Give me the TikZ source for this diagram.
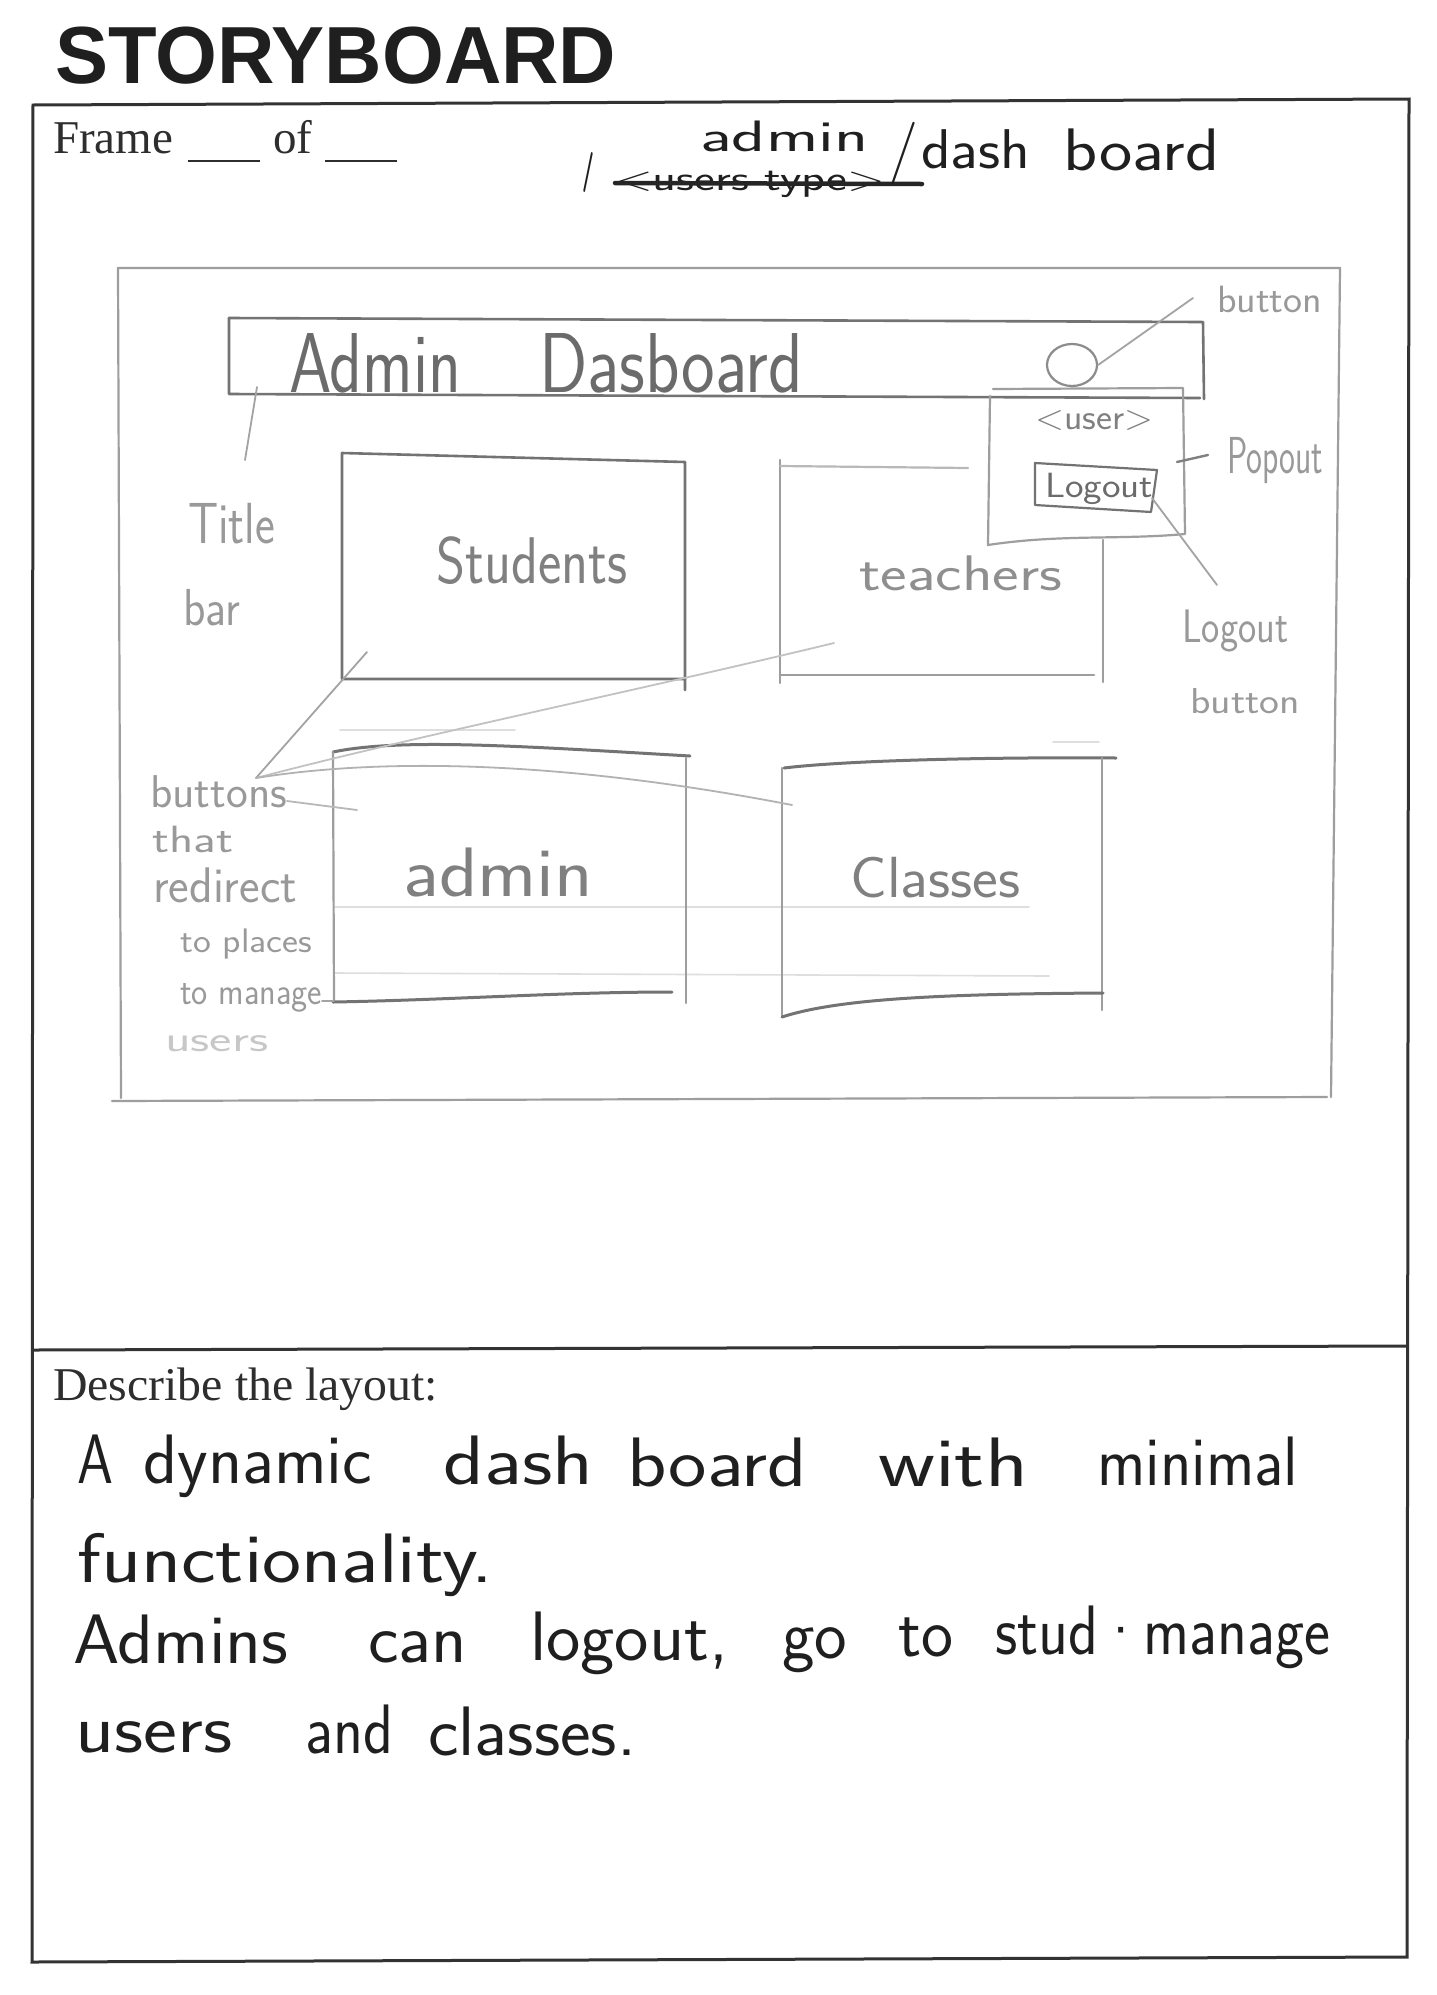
\documentclass[tikz,border=0pt]{standalone}
\usepackage{fontspec}
\usepackage{graphicx}
\setmainfont{Liberation Serif}
\newfontfamily\headfont{Liberation Sans}
\usetikzlibrary{shapes.geometric}

% font size in points (1 unit of the picture = 1pt)
\newcommand{\fsz}[1]{\fontsize{#1}{#1}\selectfont}
% squeeze or stretch a word to a given width, keeping its height
\newcommand{\wfit}[2]{\resizebox{#1pt}{\height}{#2}}

\tikzset{
  frameline/.style={draw=black!80, line width=3pt},
  sketch/.style={draw=black!38, line width=2.2pt, line cap=round, line join=round},
  sketchdark/.style={draw=black!55, line width=2.6pt, line cap=round, line join=round},
  sketchfaint/.style={draw=black!13, line width=1.6pt, line cap=round},
  leader/.style={draw=black!36, line width=1.8pt, line cap=round},
  penstroke/.style={draw=black!85, line width=4.5pt, line cap=round},
  printed/.style={anchor=base west, inner sep=0pt, text=black!82},
  pencil/.style={anchor=base west, inner sep=0pt, text=black!50, font=\sffamily},
  pencillight/.style={anchor=base west, inner sep=0pt, text=black!40, font=\sffamily},
  pen/.style={anchor=base west, inner sep=0pt, text=black!88, font=\sffamily},
}

\begin{document}
\begin{tikzpicture}[x=1pt, y=-1pt]
\fill[white] (0,0) rectangle (1437,1995);
\useasboundingbox (0,0) rectangle (1437,1995);

% ---------- printed form ----------
\node[printed, font=\headfont\bfseries\fsz{81}, text=black!88] (heading) at (55,83) {\wfit{561}{STORYBOARD}};

\coordinate (fTL) at (33,105);
\coordinate (fTR) at (1409,99);
\coordinate (fBR) at (1407,1957);
\coordinate (fBL) at (32,1962);
\coordinate (dL) at (33,1350);
\coordinate (dR) at (1408,1346);
\draw[frameline] (fTL) -- (fTR) -- (fBR) -- (fBL) -- cycle;
\draw[frameline] (dL) -- (dR);

\node[printed, font=\fsz{47}] (frame) at (53,153) {Frame};
\node[printed] (blankA) at (188,153) {\rule[-9pt]{72pt}{2.2pt}};
\node[printed, font=\fsz{47}] (of) at (273,153) {of};
\node[printed] (blankB) at (325,153) {\rule[-9pt]{72pt}{2.2pt}};
\node[printed, font=\fsz{47}] (describe) at (53,1400) {\wfit{385}{Describe the layout:}};

% ---------- page path, written in pen ----------
\node[pen, font=\sffamily\bfseries\fsz{40}] (slashA) at (582,182) {\wfit{12}{/}};
\node[pen, font=\sffamily\fsz{35}] (userstype) at (615,190) {\wfit{270}{<users type>}};
\coordinate (strikeA) at (615,183);
\coordinate (strikeB) at (922,184);
\draw[penstroke] (strikeA) -- (strikeB);
\node[pen, font=\sffamily\fsz{44}] (pathadmin) at (700,151) {\wfit{168}{admin}};
\node[pen, font=\sffamily\fsz{63}] (slashB) at (888,169) {\wfit{30}{/}};
\node[pen, font=\sffamily\fsz{56}] (pathdash) at (921,168) {\wfit{109}{dash}};
\node[pen, font=\sffamily\fsz{60}] (pathboard) at (1063,170) {\wfit{156}{board}};

% ---------- pencil wireframe ----------
% screen outline
\draw[sketch] (118,268) -- (1340,268) -- (1331,1097);
\draw[sketch] (118,268) -- (121,1098);
\draw[sketch] (112,1101) -- (1327,1097);

% title bar
\draw[sketchdark] (229,318) -- (1202,322);
\draw[sketchdark] (229,318) -- (229,394) -- (1200,398);
\draw[sketchdark] (1203,322) -- (1204,399);
\node[pencil, text=black!58, font=\sffamily\fsz{85}] (titleA) at (289,392) {\wfit{172}{Admin}};
\node[pencil, text=black!58, font=\sffamily\fsz{85}] (titleB) at (539,392) {\wfit{264}{Dasboard}};

% user button and its popout
\node[ellipse, draw=black!45, line width=2.2pt, minimum width=50pt, minimum height=42pt, inner sep=0pt] (userbtn) at (1072,365) {};
\draw[sketch] (993,389) -- (1183,388) -- (1185,534)
  .. controls (1120,540) and (1060,534) .. (988,545) -- (990,396);
\node[pencil, font=\sffamily\fsz{36}] (usertag) at (1035,429) {\wfit{118}{<user>}};
\draw[sketchdark, line width=2.2pt] (1035,463) -- (1157,470) -- (1151,512) -- (1035,505) -- cycle;
\node[pencil, text=black!58, font=\sffamily\fsz{35}] (logoutbtn) at (1045,497) {\wfit{108}{Logout}};

% tiles
\draw[sketchdark] (685,690) -- (685,462) -- (342,453) -- (342,679) -- (685,679);
\node[pencil, font=\sffamily\fsz{66}] (students) at (436,583) {\wfit{191}{Students}};

\draw[sketch] (780,460) -- (780,683);
\draw[sketch, draw=black!28] (780,466) -- (968,468);
\draw[sketch] (1103,540) -- (1103,682);
\draw[sketch] (780,675) -- (1094,675);
\node[pencil, text=black!44, font=\sffamily\fsz{50}] (teachers) at (859,590) {\wfit{203}{teachers}};

\draw[sketchfaint] (340,730) -- (515,730);
\draw[sketchfaint] (1053,742) -- (1099,742);
\draw[sketchfaint] (335,907) -- (1029,907);
\draw[sketchfaint] (335,973) -- (1049,976);

\draw[sketchdark, line width=3pt] (333,752) .. controls (400,738) and (520,746) .. (690,756);
\draw[sketch] (333,752) -- (334,1002);
\draw[sketch] (686,758) -- (686,1003);
\draw[sketchdark, line width=3pt] (333,1002) .. controls (450,1000) and (560,992) .. (672,992);
\node[pencil, font=\sffamily\fsz{70}] (admintile) at (403,896) {\wfit{190}{admin}};

\draw[sketchdark, line width=3pt] (784,768) .. controls (850,760) and (1000,757) .. (1116,758);
\draw[sketch] (782,768) -- (782,1017);
\draw[sketch] (1102,758) -- (1102,1010);
\draw[sketchdark, line width=3pt] (782,1017) .. controls (840,998) and (950,994) .. (1103,993);
\node[pencil, font=\sffamily\fsz{58}] (classes) at (850,897) {\wfit{170}{Classes}};

% ---------- pencil annotations ----------
\node[pencillight, font=\sffamily\fsz{38}] (lblbutton) at (1217,312) {\wfit{105}{button}};
\node[pencillight, font=\sffamily\fsz{52}] (lblpopout) at (1227,473) {\wfit{96}{Popout}};
\node[pencillight, font=\sffamily\fsz{47}] (lbllogout) at (1182,642) {\wfit{106}{Logout}};
\node[pencillight, font=\sffamily\fsz{36}] (lbllogoutb) at (1190,713) {\wfit{110}{button}};
\node[pencillight, font=\sffamily\fsz{58}] (lbltitle) at (188,543) {\wfit{87}{Title}};
\node[pencillight, font=\sffamily\fsz{52}] (lblbar) at (183,625) {\wfit{57}{bar}};

\node[pencillight, font=\sffamily\fsz{46}] (lblbuttons) at (150,807) {\wfit{137}{buttons}};
\node[pencillight, font=\sffamily\fsz{38}] (lblthat) at (152,852) {\wfit{81}{that}};
\node[pencillight, font=\sffamily\fsz{50}] (lblredirect) at (153,902) {\wfit{144}{redirect}};
\node[pencillight, font=\sffamily\fsz{34}] (lblplaces) at (180,952) {\wfit{132}{to places}};
\node[pencillight, font=\sffamily\fsz{38}] (lblmanage) at (180,1004) {\wfit{142}{to manage}};
\node[pencillight, text=black!22, font=\sffamily\fsz{36}] (lblusers) at (165,1051) {\wfit{103}{users}};

% leader lines
\coordinate (btnTip) at (1193,298);
\draw[leader] (userbtn.east) -- (btnTip);
\coordinate (popA) at (1177,462);
\coordinate (popB) at (1208,455);
\draw[leader, draw=black!50, line width=2.4pt] (popA) -- (popB);
\coordinate (logA) at (1152,498);
\coordinate (logB) at (1217,585);
\draw[leader] (logA) -- (logB);
\coordinate (tbA) at (257,387);
\coordinate (tbB) at (245,460);
\draw[leader] (tbA) -- (tbB);

\coordinate (hub) at (256,778);
\coordinate (stuTip) at (367,652);
\coordinate (teaTip) at (834,643);
\coordinate (claTip) at (792,805);
\draw[leader] (stuTip) -- (hub);
\draw[leader, draw=black!24] (teaTip) .. controls (640,690) and (420,735) .. (hub);
\draw[leader, draw=black!30] (hub) .. controls (380,758) and (560,760) .. (claTip);
\coordinate (butA) at (287,801);
\coordinate (butB) at (357,810);
\draw[leader, draw=black!28] (butA) -- (butB);
\coordinate (manA) at (322,1001);
\coordinate (manB) at (334,1001);
\draw[leader] (manA) -- (manB);

% ---------- description, written in pen ----------
\node[pen, font=\sffamily\fsz{70}] (wA) at (77,1483) {\wfit{36}{A}};
\node[pen, font=\sffamily\fsz{70}] (wdynamic) at (143,1483) {\wfit{229}{dynamic}};
\node[pen, font=\sffamily\fsz{70}] (wdash) at (443,1484) {\wfit{150}{dash}};
\node[pen, font=\sffamily\fsz{70}] (wboard) at (627,1486) {\wfit{180}{board}};
\node[pen, font=\sffamily\fsz{70}] (wwith) at (878,1486) {\wfit{150}{with}};
\node[pen, font=\sffamily\fsz{70}] (wminimal) at (1097,1485) {\wfit{201}{minimal}};

\node[pen, font=\sffamily\fsz{70}] (wfunc) at (77,1582) {\wfit{416}{functionality.}};

\node[pen, font=\sffamily\fsz{70}] (wadmins) at (73,1663) {\wfit{215}{Admins}};
\node[pen, font=\sffamily\fsz{70}] (wcan) at (368,1662) {\wfit{99}{can}};
\node[pen, font=\sffamily\fsz{70}] (wlogout) at (530,1660) {\wfit{198}{logout,}};
\node[pen, font=\sffamily\fsz{70}] (wgo) at (782,1658) {\wfit{65}{go}};
\node[pen, font=\sffamily\fsz{70}] (wto) at (898,1656) {\wfit{55}{to}};
\node[pen, font=\sffamily\fsz{70}] (wmanage) at (995,1654) {\wfit{335}{stud·manage}};

\node[pen, font=\sffamily\fsz{70}] (wusers) at (75,1752) {\wfit{157}{users}};
\node[pen, font=\sffamily\fsz{70}] (wand) at (305,1753) {\wfit{88}{and}};
\node[pen, font=\sffamily\fsz{70}] (wclasses) at (428,1755) {\wfit{208}{classes.}};
\end{tikzpicture}
\end{document}
